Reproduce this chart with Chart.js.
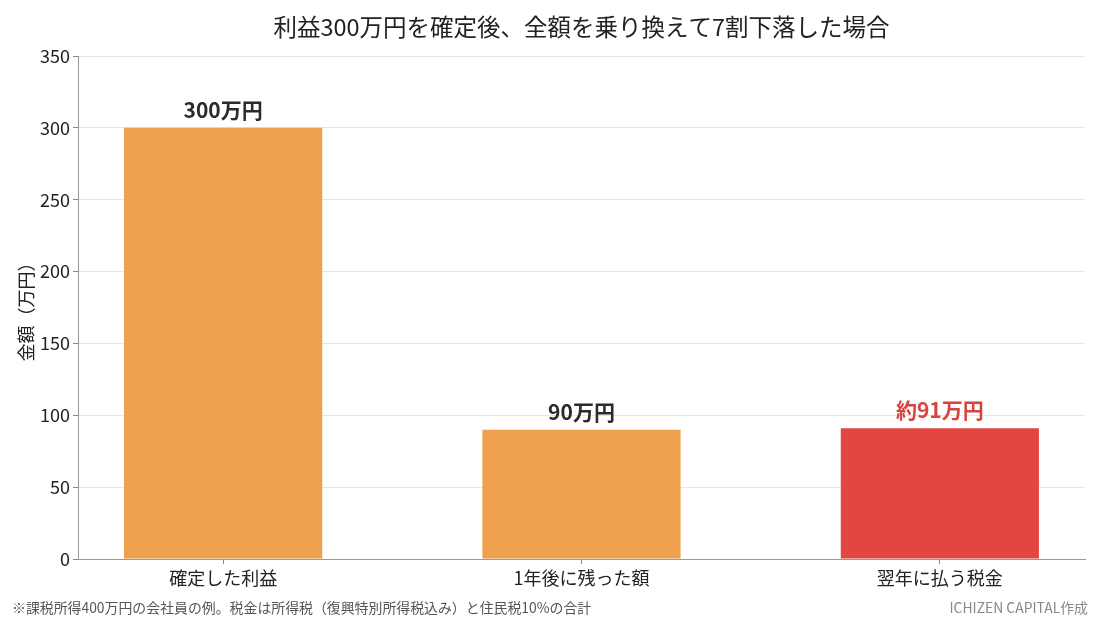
<!DOCTYPE html>
<html>
<head>
<meta charset="utf-8">
<script src="https://cdn.jsdelivr.net/npm/chart.js@4"></script>
<style>
  html, body { margin: 0; padding: 0; background: #fff; }
  #wrap { width: 1100px; height: 620px; }
</style>
</head>
<body>
<div id="wrap"><canvas id="myChart" width="1100" height="620"></canvas></div>
<script>
const categories = ['確定した利益', '1年後に残った額', '翌年に払う税金']
const values = [300, 90, 91]
const valueLabels = ['300万円', '90万円', '約91万円']
const yTicks = [0, 50, 100, 150, 200, 250, 300, 350]

const barColors = ['#EFA04E', '#EFA04E', '#E34540']
const labelColors = ['#2b2b2b', '#2b2b2b', '#D9433E']
const FONT = '"Noto Sans CJK JP", "Noto Sans", sans-serif'

// title, bar labels, footnotes
const extras = {
  id: 'extras',
  afterDatasetsDraw(chart) {
    const ctx = chart.ctx
    const area = chart.chartArea
    ctx.save()
    ctx.textAlign = 'center'
    ctx.textBaseline = 'middle'
    ctx.fillStyle = '#222'
    ctx.font = '23.5px ' + FONT
    ctx.fillText('利益300万円を確定後、全額を乗り換えて7割下落した場合', (area.left + area.right) / 2, 27)

    const meta = chart.getDatasetMeta(0)
    ctx.font = 'bold 21px ' + FONT
    meta.data.forEach((bar, i) => {
      ctx.fillStyle = labelColors[i]
      ctx.fillText(valueLabels[i], bar.x, bar.y - 18)
    })

    ctx.font = '13.9px ' + FONT
    ctx.fillStyle = '#555'
    ctx.textAlign = 'left'
    ctx.fillText('※課税所得400万円の会社員の例。税金は所得税（復興特別所得税込み）と住民税10%の合計', 12, 608)
    ctx.textAlign = 'right'
    ctx.fillStyle = '#888'
    ctx.fillText('ICHIZEN CAPITAL作成', 1088, 608)
    ctx.restore()
  }
}

const config = {
  type: 'bar',
  data: {
    datasets: [{
      data: categories.map((c, i) => ({ x: i, y: values[i] })),
      backgroundColor: barColors,
      borderWidth: 0,
      categoryPercentage: 1,
      barPercentage: 0.553
    }]
  },
  options: {
    responsive: false,
    animation: false,
    layout: { padding: { top: 56, right: 15, bottom: 0, left: 0 } },
    plugins: { legend: { display: false }, tooltip: { enabled: false }, title: { display: false } },
    scales: {
      x: {
        type: 'linear',
        offset: false,
        min: -0.405,
        max: 2.405,
        afterBuildTicks: (scale) => { scale.ticks = categories.map((c, i) => ({ value: i })) },
        afterFit: (scale) => { scale.height = 61 },
        grid: { offset: false, drawOnChartArea: false, tickLength: 5, tickColor: '#888' },
        border: { color: '#999', width: 1 },
        ticks: {
          padding: 3,
          color: '#222',
          font: { family: FONT, size: 18 },
          autoSkip: false,
          maxRotation: 0,
          callback: (v) => categories[v]
        }
      },
      y: {
        min: 0,
        max: 350,
        afterBuildTicks: (scale) => { scale.ticks = yTicks.map(v => ({ value: v })) },
        afterFit: (scale) => { scale.width = 78 },
        grid: { color: '#e6e6e6', tickLength: 5, tickColor: '#888' },
        border: { color: '#999', width: 1 },
        ticks: { padding: 3, color: '#222', font: { family: FONT, size: 18 } },
        title: {
          display: true,
          text: '金額（万円）',
          color: '#222',
          font: { family: FONT, size: 18 },
          padding: { top: 15, bottom: 0 }
        }
      }
    }
  },
  plugins: [extras]
}

const myChart = new Chart(document.getElementById('myChart'), config)
</script>
</body>
</html>
